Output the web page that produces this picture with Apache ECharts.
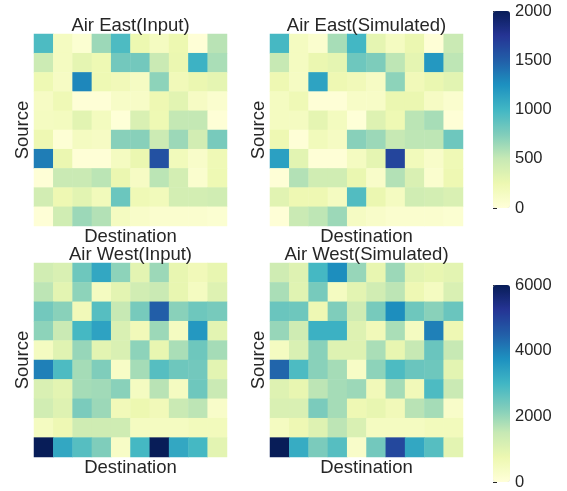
<!DOCTYPE html>
<html>
<head>
<meta charset="utf-8">
<script src="https://cdn.jsdelivr.net/npm/echarts@6/dist/echarts.min.js"></script>
<style>
  html, body { margin: 0; padding: 0; background: #fff; }
  #chart { width: 567px; height: 491px; }
</style>
</head>
<body>
<div id="chart"></div>
<script>
// 10 x 10 origin-destination flow matrices (rows = source, columns = destination)
const cells = ['0', '1', '2', '3', '4', '5', '6', '7', '8', '9'];

const airEastInput = [
  [950, 150, 50, 650, 950, 250, 150, 250, 20, 550],
  [470, 150, 300, 230, 800, 800, 480, 260, 1030, 600],
  [230, 130, 1300, 230, 200, 140, 700, 200, 260, 300],
  [130, 220, 20, 20, 110, 110, 240, 320, 130, 70],
  [150, 160, 320, 160, 10, 380, 230, 510, 510, 20],
  [240, 30, 150, 130, 720, 720, 470, 650, 430, 780],
  [1350, 260, 20, 20, 150, 260, 1580, 190, 100, 220],
  [20, 480, 480, 540, 260, 130, 540, 420, 70, 230],
  [430, 240, 320, 190, 830, 220, 190, 420, 420, 440],
  [20, 440, 650, 570, 150, 100, 70, 70, 70, 50]
];

const airEastSimulated = [
  [980, 150, 70, 610, 990, 300, 150, 260, 20, 480],
  [500, 150, 260, 300, 820, 760, 530, 300, 1200, 530],
  [240, 140, 1130, 240, 200, 130, 700, 200, 270, 320],
  [150, 220, 20, 20, 110, 110, 260, 260, 130, 70],
  [150, 150, 300, 160, 10, 350, 230, 540, 610, 20],
  [240, 20, 190, 140, 720, 650, 500, 530, 530, 820],
  [1150, 320, 20, 20, 150, 300, 1650, 190, 100, 220],
  [20, 570, 440, 440, 270, 100, 570, 380, 70, 240],
  [330, 240, 240, 150, 930, 260, 150, 440, 420, 380],
  [20, 480, 530, 650, 140, 100, 70, 70, 70, 50]
];

const airWestInput = [
  [1300, 1150, 2450, 3300, 2100, 950, 1950, 850, 600, 850],
  [1600, 950, 2100, 450, 950, 1300, 1450, 850, 450, 1050],
  [2400, 2150, 600, 2750, 1500, 2350, 4500, 2150, 2450, 2350],
  [2100, 1450, 2950, 3400, 1150, 600, 1950, 450, 3600, 950],
  [450, 1000, 2000, 950, 1150, 2100, 850, 1800, 2450, 1850],
  [4000, 2850, 1850, 2250, 350, 1850, 2750, 2450, 2400, 950],
  [1150, 950, 1850, 1900, 2150, 450, 1650, 450, 2450, 1450],
  [1300, 1050, 2300, 1950, 600, 750, 600, 1450, 1600, 300],
  [450, 700, 1350, 1350, 1350, 450, 450, 450, 550, 550],
  [6000, 3300, 2750, 2250, 350, 2950, 6000, 3300, 2950, 950]
];

const airWestSimulated = [
  [1350, 1050, 2950, 3800, 2000, 850, 1950, 950, 850, 950],
  [1800, 1000, 2350, 450, 950, 1300, 1600, 700, 450, 1150],
  [2500, 2450, 700, 2250, 1350, 2350, 3800, 2450, 2150, 2500],
  [2000, 1350, 3100, 3100, 1050, 600, 1800, 450, 4000, 700],
  [450, 1150, 2150, 1050, 1050, 1800, 850, 1500, 2500, 1500],
  [4400, 2850, 2150, 1850, 350, 2100, 2850, 2500, 2450, 950],
  [1050, 850, 1600, 1850, 1950, 600, 1850, 600, 2850, 1450],
  [1150, 1150, 2300, 1850, 700, 850, 600, 1650, 1850, 300],
  [450, 700, 1050, 1600, 1150, 450, 450, 450, 550, 550],
  [6000, 3200, 2300, 2750, 300, 2400, 4900, 3300, 2750, 950]
];

const panelTitles = ['Air East(Input)', 'Air East(Simulated)', 'Air West(Input)', 'Air West(Simulated)'];
const eastScale = { max: 2000, step: 500 };
const westScale = { max: 6000, step: 2000 };

// YlGnBu ramp
const ylGnBu = ['#ffffd9', '#edf8b1', '#c7e9b4', '#7fcdbb', '#41b6c4',
                '#1d91c0', '#225ea8', '#253494', '#081d58'];

const FONT = "'Liberation Sans', Arial, sans-serif";
const INK = '#262626';

const panels = [
  { matrix: airEastInput,     left: 34,  top: 34,  width: 193, height: 192 },
  { matrix: airEastSimulated, left: 270, top: 34,  width: 193, height: 192 },
  { matrix: airWestInput,     left: 34,  top: 263, width: 193, height: 194 },
  { matrix: airWestSimulated, left: 270, top: 263, width: 193, height: 194 }
];

const colorbars = [
  { scale: eastScale, left: 493, top: 11,  width: 17, height: 197, series: [0, 1] },
  { scale: westScale, left: 493, top: 285, width: 17, height: 197, series: [2, 3] }
];

function toTriples(matrix) {
  const out = [];
  matrix.forEach((row, r) => row.forEach((v, c) => out.push([c, r, v])));
  return out;
}

const grid = [], xAxis = [], yAxis = [], series = [], title = [], visualMap = [];

panels.forEach((p, i) => {
  grid.push({ left: p.left, top: p.top, width: p.width, height: p.height });
  xAxis.push({
    type: 'category', gridIndex: i, data: cells,
    axisLine: { show: false }, axisTick: { show: false }, axisLabel: { show: false },
    splitLine: { show: false },
    name: 'Destination', nameLocation: 'middle', nameGap: 1,
    nameTextStyle: { fontSize: 18.5, color: INK, fontFamily: FONT }
  });
  yAxis.push({
    type: 'category', gridIndex: i, data: cells, inverse: true,
    axisLine: { show: false }, axisTick: { show: false }, axisLabel: { show: false },
    splitLine: { show: false },
    name: 'Source', nameLocation: 'middle', nameGap: 1.5,
    nameTextStyle: { fontSize: 18.5, color: INK, fontFamily: FONT }
  });
  series.push({
    type: 'heatmap', xAxisIndex: i, yAxisIndex: i,
    data: toTriples(p.matrix),
    itemStyle: { borderWidth: 0 },
    emphasis: { disabled: true }
  });
  title.push({
    text: panelTitles[i],
    left: p.left + p.width / 2, textAlign: 'center',
    top: p.top - 18, padding: 0,
    textStyle: { fontSize: 18.5, fontWeight: 'normal', color: INK, fontFamily: FONT }
  });
});

colorbars.forEach((cb, k) => {
  const gi = panels.length + k;
  grid.push({ left: cb.left, top: cb.top, width: cb.width, height: cb.height });
  xAxis.push({ type: 'value', gridIndex: gi, show: false, min: 0, max: 1 });
  yAxis.push({
    type: 'value', gridIndex: gi, position: 'right',
    min: 0, max: cb.scale.max, interval: cb.scale.step,
    axisLine: { show: false },
    axisTick: { show: true, length: 4, lineStyle: { color: INK, width: 1 } },
    axisLabel: { margin: 5, fontSize: 16.5, color: INK, fontFamily: FONT,
                 formatter: v => String(v) },
    splitLine: { show: false }
  });
  series.push({ type: 'line', xAxisIndex: gi, yAxisIndex: gi, data: [], silent: true });
  visualMap.push({
    type: 'continuous', seriesIndex: cb.series,
    min: 0, max: cb.scale.max, calculable: false, hoverLink: false,
    orient: 'vertical', left: cb.left, top: cb.top, padding: 0,
    itemWidth: cb.width, itemHeight: cb.height,
    text: null, showLabel: false,
    inRange: { color: ylGnBu }
  });
});

const chart = echarts.init(document.getElementById('chart'), null, { renderer: 'canvas' });
chart.setOption({
  backgroundColor: '#ffffff',
  animation: false,
  textStyle: { fontFamily: FONT },
  title, grid, xAxis, yAxis, series, visualMap
});
</script>
</body>
</html>
